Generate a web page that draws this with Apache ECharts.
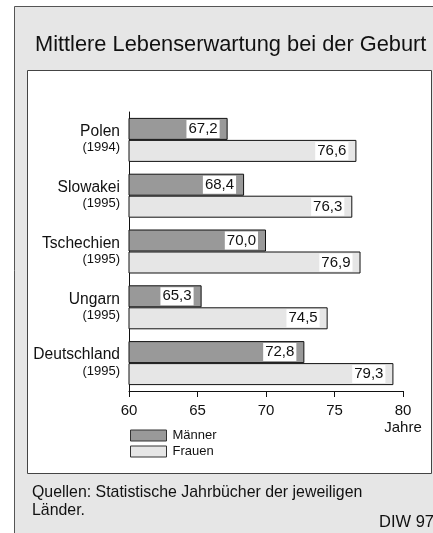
<!DOCTYPE html>
<html>
<head>
<meta charset="utf-8">
<script src="https://cdn.jsdelivr.net/npm/echarts@6/dist/echarts.min.js"></script>
<style>html,body{margin:0;padding:0;background:#fff;}#c{width:433px;height:533px;}</style>
</head>
<body>
<div id="c"></div>
<script>
var countries = ['Polen', 'Slowakei', 'Tschechien', 'Ungarn', 'Deutschland'];
var years = ['(1994)', '(1995)', '(1995)', '(1995)', '(1995)'];
var maenner = [67.2, 68.4, 70.0, 65.3, 72.8];
var frauen = [76.6, 76.3, 76.9, 74.5, 79.3];
var seriesNames = ['Männer', 'Frauen'];
var xTicks = [60, 65, 70, 75, 80];

var FONT = 'Liberation Sans, Arial, sans-serif';
var chart = echarts.init(document.getElementById('c'), null, {renderer: 'canvas'});

function fmt(v) { return v.toFixed(1).replace('.', ','); }

var labelCfg = {
  show: true,
  position: 'insideRight',
  distance: 8,
  formatter: function (p) { return fmt(p.value); },
  color: '#111',
  fontSize: 15,
  fontFamily: FONT,
  backgroundColor: '#fff',
  padding: [2, 2, 1, 2]
};

chart.setOption({
  animation: false,
  backgroundColor: '#fff',
  graphic: [
    {type: 'rect', z: -10, shape: {x: 14.5, y: 6.5, width: 440, height: 540},
     style: {fill: '#e6e6e6', stroke: '#555', lineWidth: 1}},
    {type: 'rect', z: -9, shape: {x: 27.5, y: 70.5, width: 404, height: 403},
     style: {fill: '#fff', stroke: '#444', lineWidth: 1}},
    {type: 'text', left: 35, top: 34, style: {text: 'Mittlere Lebenserwartung bei der Geburt',
     font: '21.8px ' + FONT, fill: '#111'}},
    {type: 'text', left: 32, top: 484, style: {text: 'Quellen: Statistische Jahrbücher der jeweiligen\nLänder.',
     font: '15.9px ' + FONT, fill: '#111', lineHeight: 18}},
    {type: 'text', left: 379, top: 514, style: {text: 'DIW 97',
     font: '16.5px ' + FONT, fill: '#111'}}
  ],
  legend: {
    orient: 'vertical',
    left: 125,
    top: 424,
    itemWidth: 36,
    itemHeight: 11,
    itemGap: 3,
    icon: 'rect',
    data: seriesNames,
    itemStyle: {borderWidth: 1, borderColor: '#333'},
    textStyle: {fontSize: 13, fontFamily: FONT, color: '#111', padding: [0, 0, 0, 1]}
  },
  grid: {left: 129, top: 112, right: 30, bottom: 142, containLabel: false},
  xAxis: {
    type: 'value',
    min: 60, max: 80, interval: 5,
    axisLine: {show: true, lineStyle: {color: '#111', width: 1}},
    axisTick: {show: true, inside: false, length: 6, lineStyle: {color: '#111'}},
    splitLine: {show: false},
    axisLabel: {
      margin: 11,
      fontSize: 15, fontFamily: FONT, color: '#111', lineHeight: 17,
      formatter: function (v) { return v === 80 ? '80\nJahre' : String(v); },
      customValues: xTicks
    }
  },
  yAxis: {
    type: 'category',
    inverse: true,
    data: countries,
    axisLine: {show: true, lineStyle: {color: '#111', width: 1}},
    axisTick: {show: false},
    axisLabel: {
      margin: 9,
      align: 'right',
      formatter: function (v, i) { return '{a|' + v + '}\n{b|' + years[i] + '}'; },
      rich: {
        a: {fontSize: 15.6, fontFamily: FONT, color: '#111', lineHeight: 16, align: 'right'},
        b: {fontSize: 13, fontFamily: FONT, color: '#111', lineHeight: 16, align: 'right'}
      }
    }
  },
  series: [
    {
      name: seriesNames[0], type: 'bar', data: maenner,
      barWidth: 22, barGap: '0%',
      itemStyle: {color: '#999999', borderColor: '#111', borderWidth: 1},
      label: labelCfg
    },
    {
      name: seriesNames[1], type: 'bar', data: frauen,
      barWidth: 22, barGap: '0%',
      itemStyle: {color: '#e6e6e6', borderColor: '#111', borderWidth: 1},
      label: labelCfg
    }
  ]
});
</script>
</body>
</html>
